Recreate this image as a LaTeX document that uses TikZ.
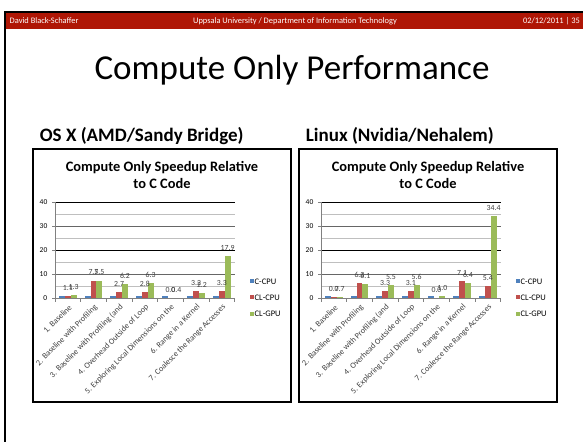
\documentclass[tikz,border=0pt]{standalone}
\usepackage{fontspec}
\setmainfont{Carlito}
\definecolor{hdr}{RGB}{175,22,5}
\definecolor{cblue}{RGB}{79,129,189}
\definecolor{cred}{RGB}{192,80,77}
\definecolor{cgreen}{RGB}{155,187,89}
\definecolor{lab}{RGB}{64,64,64}
\tikzset{
  hdrtext/.style={text=white, font=\fontsize{8.4bp}{9bp}\selectfont, inner sep=0},
  slidetitle/.style={font=\fontsize{35bp}{40bp}\selectfont, inner sep=0, anchor=base},
  subtitle/.style={font=\fontsize{19bp}{21bp}\selectfont\bfseries, inner sep=0, anchor=base west},
  chartbox/.style={draw=black, line width=1.3bp},
  ctitle/.style={font=\fontsize{14.4bp}{16bp}\selectfont\bfseries, inner sep=0, anchor=base},
  ylab/.style={font=\fontsize{7.5bp}{8bp}\selectfont, inner sep=0, anchor=east},
  dlab/.style={font=\fontsize{7.8bp}{8bp}\selectfont, text=lab, inner sep=0, anchor=base},
  catlab/.style={font=\fontsize{8.2bp}{9bp}\selectfont, text=lab, inner sep=0, anchor=east, rotate=45},
  leglab/.style={font=\fontsize{8.5bp}{9bp}\selectfont, inner sep=0, anchor=west},
  majdark/.style={draw=black, line width=0.8bp},
  majgray/.style={draw=black!60, line width=1.6bp},
  mingrid/.style={draw=black!25, line width=0.5bp},
  axisline/.style={draw=black!50, line width=0.6bp},
}
\newcommand\drawchart[4]{%
\begin{scope}[xshift=#1bp]
  \draw[chartbox] (33,149) rectangle (291,402);
  \node[ctitle] (#2ta) at (162,171.5) {Compute Only Speedup Relative};
  \node[ctitle] (#2tb) at (162,188.3) {to C Code};
  % grid
  \foreach \v in {5,15,25,35} \draw[mingrid] (55,298.5-\v*2.4) -- (234.7,298.5-\v*2.4);
  \foreach \v in {20,40} \draw[majdark] (55,298.5-\v*2.4) -- (234.7,298.5-\v*2.4);
  \foreach \v in {10,30} \draw[majgray] (55,298.5-\v*2.4) -- (234.7,298.5-\v*2.4);
  % bars and labels
  \foreach \ka/\kb/\kc/\kd/\ke in {#3} {
    \pgfmathsetmacro\xs{55+\ka*25.67}
    \fill[cblue] (\xs+4.1,298.5) rectangle (\xs+9.9,298.5-2.4);
    \fill[cred] (\xs+9.9,298.5) rectangle (\xs+15.7,298.5-\kb*2.4);
    \fill[cgreen] (\xs+15.7,298.5) rectangle (\xs+21.5,298.5-\kc*2.4);
    \node[dlab] (#2r\ka) at (\xs+12.8,298.5-\kb*2.4-5.5) {\kd};
    \node[dlab] (#2g\ka) at (\xs+18.6,298.5-\kc*2.4-5.5) {\ke};
  }
  % axes
  \draw[axisline] (55,202.5) -- (55,298.5) -- (234.7,298.5);
  \foreach \v in {0,10,20,30,40} {
    \draw[axisline] (52,298.5-\v*2.4) -- (55,298.5-\v*2.4);
    \node[ylab] (#2y\v) at (47.5,298.5-\v*2.4) {\v};
  }
  \foreach \ka in {0,...,7} \draw[axisline] (55+\ka*25.67,298.5) -- (55+\ka*25.67,301.5);
  \foreach \ka/\kt in {#4} {
    \node[catlab] (#2c\ka) at (55+\ka*25.67+15.5,306) {\kt};
  }
  % legend
  \fill[cblue] (249.5,279.3) rectangle (253.5,283.3);
  \node[leglab] (#2la) at (254.5,281.3) {C-CPU};
  \fill[cred] (249.5,295.3) rectangle (253.5,299.3);
  \node[leglab] (#2lb) at (254.5,297.3) {CL-CPU};
  \fill[cgreen] (249.5,312) rectangle (253.5,316);
  \node[leglab] (#2lc) at (254.5,314) {CL-GPU};
\end{scope}}
\begin{document}
\begin{tikzpicture}[x=1bp,y=-1bp]
\useasboundingbox (0,0) rectangle (583,442);
\fill[white] (0,0) rectangle (583,442);
% header
\fill[hdr] (6,13.4) rectangle (583,28.6);
\draw[line width=2.2bp] (4.8,442) -- (4.8,12.3) -- (583,12.3);
\node[hdrtext, anchor=west] (author) at (9.5,21) {David Black-Schaffer};
\node[hdrtext] (inst) at (295,21) {Uppsala University / Department of Information Technology};
\node[hdrtext, anchor=east] (date) at (580,21) {02/12/2011 | 35};
% title
\node[slidetitle] (title) at (292,79.3) {Compute Only Performance};
\node[subtitle] (osx) at (39.7,142) {OS X (AMD/Sandy Bridge)};
\node[subtitle] (linux) at (305.7,142) {Linux (Nvidia/Nehalem)};
% charts
\drawchart{0}{L}{0/1.1/1.3/1.1/1.3,1/7.5/7.5/7.5/7.5,2/2.7/6.2/2.7/6.2,3/2.8/6.3/2.8/6.3,4/0.04/0.4/0.0/0.4,5/3.2/2.2/3.2/2.2,6/3.3/17.9/3.3/17.9}{0/{1. Baseline},1/{2. Baseline with Profiling},2/{3. Baseline with Profiling (and},3/{4. Overhead Outside of Loop},4/{5. Exploring Local Dimensions on the},5/{6. Range in a Kernel},6/{7. Coalesce the Range Accesses}}
\drawchart{266}{R}{0/0.7/0.7/0.7/0.7,1/6.3/6.1/6.3/6.1,2/3.3/5.5/3.3/5.5,3/3.1/5.6/3.1/5.6,4/0.02/1.0/0.0/1.0,5/7.1/6.4/7.1/6.4,6/5.4/34.4/5.4/34.4}{0/{1. Baseline},1/{2. Baseline with Profiling},2/{3. Baseline with Profiling (and},3/{4. Overhead Outside of Loop},4/{5. Exploring Local Dimensions on the},5/{6. Range in a Kernel},6/{7. Coalesce the Range Accesses}}
\end{tikzpicture}
\end{document}
